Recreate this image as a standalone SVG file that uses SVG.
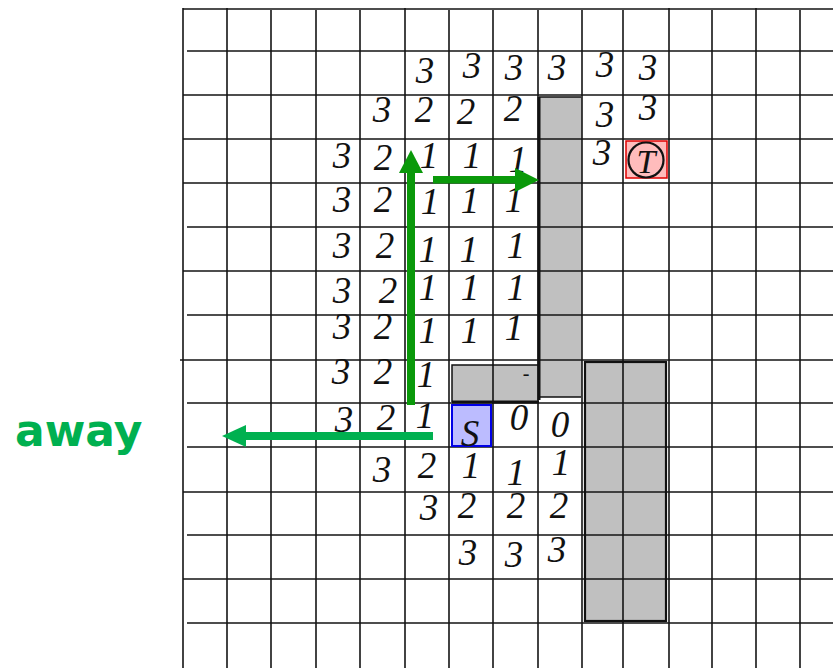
<svg xmlns="http://www.w3.org/2000/svg" width="833" height="668" viewBox="0 0 833 668">
<style>
.g{stroke:#151515;stroke-width:1.6;fill:none}
.n{font-family:"Liberation Serif","Times New Roman",serif;font-style:italic;font-size:37px;fill:#111;text-anchor:middle}
.gray{fill:#c0c0c0}
.dk{fill:#0a990a}
.lt{fill:#00b050}
</style>
<rect width="833" height="668" fill="#fff"/>
<g id="obstacles">
<rect class="gray" x="539" y="97" width="43" height="300"/>
<rect class="gray" x="452" y="365" width="86" height="37"/>
<rect class="gray" x="585" y="362" width="81" height="259"/>
</g>
<g id="grid">
<path class="g" d="M183 8V668M227 8V668M271 10V668M316 10V668M360 10V668M405 8V668M449 10V668M493 10V668M538 10V668M582 10V668M623 10V668M669 8V668M712 10V668M756 8V668M800 10V668"/>
<path class="g" d="M183 9H833M187 51H833M183 95H833M183 139H833M183 183H833M187 227H833M183 271H833M187 315H833M180 360H833M187 403H833M187 447H833M183 492H833M187 535H833M183 579H833M187 623H833"/>
</g>
<g id="obstacle-borders" fill="none" stroke="#111">
<path d="M539 97V400" stroke-width="3"/>
<path d="M539 97H581M539 397H581" stroke-width="1.5"/>
<path d="M452 402V365H538" stroke-width="1.5"/>
<path d="M452 402H539" stroke-width="3"/>
<rect x="585" y="362" width="81" height="259" stroke-width="2.2"/>
</g>
<g id="start">
<rect x="452" y="405" width="39" height="41" fill="#bcbcff" stroke="#0000e6" stroke-width="2"/>
<text class="n" x="470" y="446">S</text>
</g>
<g id="target">
<rect x="626" y="141" width="41" height="37" fill="#ffbcbc" stroke="#e00000" stroke-width="1.5"/>
<circle cx="646" cy="160" r="17.5" fill="none" stroke="#111" stroke-width="2.2"/>
<text class="n" x="646" y="173" style="font-size:34px">T</text>
</g>
<g id="values">
<text class="n" x="425" y="83">3</text><text class="n" x="472" y="78">3</text><text class="n" x="514" y="80">3</text><text class="n" x="557" y="80">3</text><text class="n" x="605" y="77">3</text><text class="n" x="648" y="80">3</text>
<text class="n" x="382" y="122">3</text><text class="n" x="424" y="122">2</text><text class="n" x="466" y="124">2</text><text class="n" x="513" y="121">2</text><text class="n" x="605" y="127">3</text><text class="n" x="648" y="120">3</text>
<text class="n" x="342" y="168">3</text><text class="n" x="383" y="170">2</text><text class="n" x="429" y="168">1</text><text class="n" x="472" y="168">1</text><text class="n" x="518" y="172">1</text><text class="n" x="602" y="165">3</text>
<text class="n" x="342" y="212">3</text><text class="n" x="383" y="212">2</text><text class="n" x="430" y="214">1</text><text class="n" x="470" y="213">1</text><text class="n" x="514" y="212">1</text>
<text class="n" x="342" y="258">3</text><text class="n" x="385" y="258">2</text><text class="n" x="428" y="262">1</text><text class="n" x="469" y="262">1</text><text class="n" x="516" y="258">1</text>
<text class="n" x="342" y="303">3</text><text class="n" x="388" y="303">2</text><text class="n" x="428" y="300">1</text><text class="n" x="470" y="300">1</text><text class="n" x="516" y="300">1</text>
<text class="n" x="342" y="339">3</text><text class="n" x="383" y="339">2</text><text class="n" x="428" y="343">1</text><text class="n" x="470" y="343">1</text><text class="n" x="514" y="340">1</text>
<text class="n" x="341" y="384">3</text><text class="n" x="383" y="384">2</text><text class="n" x="426" y="387">1</text>
<text class="n" x="526" y="380" style="font-size:20px">-</text>
<text class="n" x="344" y="432">3</text><text class="n" x="386" y="430">2</text><text class="n" x="425" y="428">1</text><text class="n" x="519" y="430">0</text><text class="n" x="560" y="437">0</text>
<text class="n" x="382" y="482">3</text><text class="n" x="427" y="478">2</text><text class="n" x="471" y="478">1</text><text class="n" x="516" y="485">1</text><text class="n" x="561" y="475">1</text>
<text class="n" x="429" y="520">3</text><text class="n" x="467" y="518">2</text><text class="n" x="516" y="518">2</text><text class="n" x="559" y="518">2</text>
<text class="n" x="468" y="565">3</text><text class="n" x="514" y="567">3</text><text class="n" x="557" y="562">3</text>
</g>
<g id="connectors">
<rect class="dk" x="407" y="170" width="8" height="235"/>
<polygon class="dk" points="411,150 399,173 423,173"/>
<rect class="dk" x="433" y="176" width="84" height="7.5"/>
<polygon class="dk" points="539,180 515,168 515,192"/>
<rect class="lt" x="244" y="432" width="189" height="8"/>
<polygon class="lt" points="222,436 246,425 246,447"/>
</g>
<text id="away" x="15" y="446" font-family="'DejaVu Sans',Verdana,sans-serif" font-weight="bold" font-size="44" fill="#00b050">away</text>
</svg>
